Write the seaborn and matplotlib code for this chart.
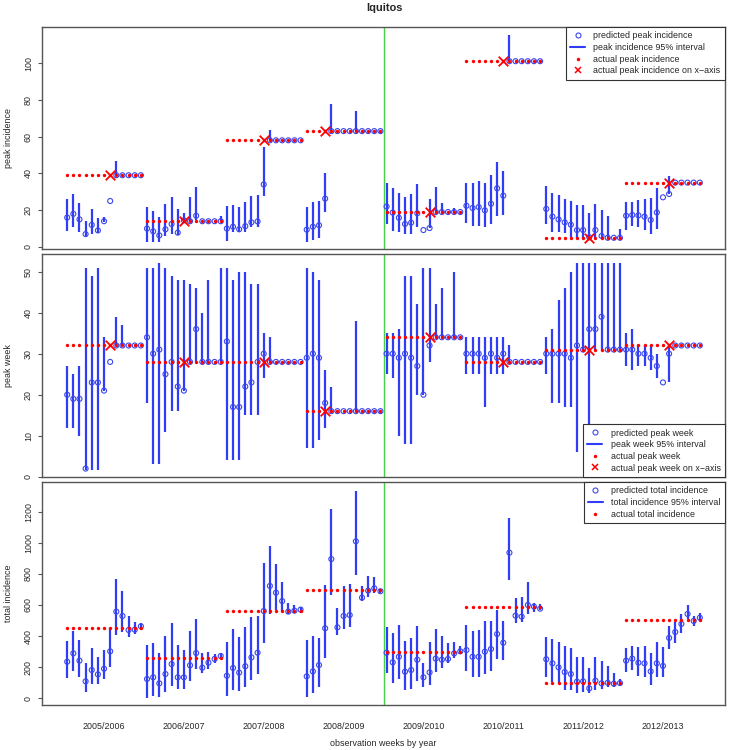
import numpy as np
import pandas as pd
import matplotlib
matplotlib.use("Agg")
import matplotlib.pyplot as plt
import seaborn as sns
from matplotlib.lines import Line2D

# ---------------- data ----------------
seasons = ["2005/2006", "2006/2007", "2007/2008", "2008/2009",
           "2009/2010", "2010/2011", "2011/2012", "2012/2013"]
n_weeks = 13
peak_obs_week = [8, 7, 7, 4, 8, 7, 8, 8]   # observation week of the actual peak

# peak incidence
pk_inc_actual = [39, 14, 58, 63, 19, 101, 5, 35]
pk_inc_pred = [
    16, 18, 15, 7, 12, 9, 14, 25, 39, 39, 39, 39, 39,
    10, 8.5, 6.3, 9.6, 12.5, 7.8, 14.5, 14, 17, 14, 14, 14, 14,
    10, 11, 9.6, 11.3, 13.4, 13.9, 34, 58, 58, 58, 58, 58, 58,
    9.4, 11, 11.8, 26.3, 63, 63, 63, 63, 63, 63, 63, 63, 63,
    22, 18.7, 15.9, 12.5, 13.2, 18.3, 9.2, 10.3, 19, 19, 19, 19, 19,
    22.4, 21.2, 21.7, 19.9, 23.5, 31.9, 27.9, 101, 101, 101, 101, 101, 101,
    20.7, 16.5, 15, 13.4, 12.1, 9.2, 9.2, 5.3, 9.2, 6, 5, 5, 5,
    17, 17.4, 17.2, 16.5, 14.7, 18.8, 27, 28.8, 35, 35, 35, 35, 35]
pk_inc_lo = [
    8.9, 10.7, 8.3, 6, 7.1, 7.4, 13.4, 25, 39, 39, 39, 39, 39,
    2.9, 2.9, 2.9, 6, 7.1, 6.7, 13.4, 14, 14.7, 14, 14, 14, 14,
    3.5, 8, 8, 8, 11, 10.7, 27.7, 58, 58, 58, 58, 58, 58,
    2.9, 3.8, 5.1, 18.8, 63, 63, 63, 63, 63, 63, 63, 63, 63,
    12.5, 8.7, 8.2, 7.1, 7.1, 10.7, 9.2, 10.3, 19, 19, 19, 19, 19,
    13.2, 11.4, 11.4, 10.7, 12.5, 17, 17.4, 101, 101, 101, 101, 101, 101,
    12.5, 8, 8, 7.4, 5.6, 5.1, 5.1, 5.1, 5, 5, 5, 5, 5,
    9.2, 11.4, 10.7, 9.2, 6.9, 9.6, 27, 28.8, 35, 35, 35, 35, 35]
pk_inc_hi = [
    26.1, 28.8, 24.1, 14.1, 20.7, 15.8, 16.5, 25, 46.6, 39, 39, 39, 39,
    21.9, 19.6, 16.5, 23.2, 27.3, 20.5, 18.5, 27.3, 32.8, 14, 14, 14, 16.8,
    22.3, 23, 21.9, 24.6, 27.9, 28.4, 54.2, 63.6, 58, 58, 58, 58, 58,
    21.9, 24.6, 25.2, 40, 77.7, 63, 63, 63, 73.9, 63, 63, 63, 63,
    34.8, 32.2, 29.5, 27.3, 28.6, 34.5, 9.2, 26.3, 32.8, 24.1, 19, 21, 19,
    35, 34.6, 35.7, 34.6, 39.1, 46.2, 41.1, 115.2, 101, 101, 101, 101, 101,
    33.2, 29.5, 28.3, 26.1, 25, 22.8, 22.8, 18.7, 23.4, 19.9, 17, 5, 9.6,
    24.6, 24.6, 25.5, 26.1, 26.4, 31.9, 27, 38.6, 35, 35, 35, 35, 35]

# peak week
pk_wk_actual = [32, 28, 28, 16, 34, 28, 31, 32]
pk_wk_pred = [
    20, 19, 19, 2, 23, 23, 21, 28, 32, 32, 32, 32, 32,
    34, 30, 31, 25, 28, 22, 21, 28, 36, 28, 28, 28, 28,
    33, 17, 17, 22, 23, 28, 30, 28, 28, 28, 28, 28, 28,
    29, 30, 29, 18, 16, 16, 16, 16, 16, 16, 16, 16, 16,
    30, 30, 29, 30, 29, 27, 20, 32, 34, 34, 34, 34, 34,
    30, 30, 30, 29, 30, 29, 30, 28, 28, 28, 28, 28, 28,
    30, 30, 30, 30, 29, 32, 31, 36, 36, 39, 31, 31, 31,
    31, 31, 30, 30, 29, 27, 23, 30, 32, 32, 32, 32, 32]
pk_wk_lo = [
    12, 12, 10, 1.7, 1.7, 1.7, 21, 28, 32, 32, 32, 32, 32,
    18, 3, 3, 11, 16, 16, 21, 28, 28, 28, 28, 28, 28,
    4, 4, 4, 15, 15, 15, 24, 28, 28, 28, 28, 28, 28,
    7, 7, 9, 12, 16, 16, 16, 16, 16, 16, 16, 16, 16,
    25, 24, 10, 8, 8, 20, 20, 28, 34, 34, 34, 34, 34,
    25, 25, 25, 17, 25, 25, 25, 28, 28, 28, 28, 28, 28,
    25, 18, 18, 17, 17, 6, 31, 6, 31, 31, 31, 31, 31,
    27, 26, 27, 27, 26, 24, 23, 23, 32, 32, 32, 32, 32]
pk_wk_hi = [
    27, 25, 27, 51, 49, 51, 34, 28, 39, 37, 32, 32, 32,
    51, 51, 52, 51, 49, 48, 48, 47, 46, 40, 48, 28, 51,
    51, 48, 50, 50, 47, 47, 35, 34, 28, 28, 28, 28, 28,
    51, 50, 48, 26, 22, 16, 16, 16, 38, 16, 16, 16, 16,
    35, 35, 36, 49, 49, 42, 51, 51, 42, 46, 34, 50, 34,
    34, 34, 34, 34, 34, 34, 34, 32, 28, 28, 28, 28, 28,
    34, 36, 43, 46, 50, 52, 52, 52, 52, 52, 52, 52, 52,
    35, 36, 32, 32, 32, 30, 23, 32, 32, 32, 32, 32, 32]

# total incidence
tot_actual = [452, 257, 563, 694, 298, 587, 96, 501]
tot_pred = [
    235, 289, 242, 109, 182, 154, 190, 302, 557, 529, 439, 441, 463,
    124, 135, 96, 156, 220, 135, 135, 212, 291, 197, 229, 253, 272,
    145, 195, 165, 206, 263, 293, 561, 722, 679, 625, 557, 563, 570,
    141, 173, 214, 450, 895, 456, 529, 535, 1009, 647, 692, 707, 688,
    293, 231, 267, 171, 182, 248, 135, 167, 255, 248, 253, 289, 302,
    310, 267, 267, 300, 317, 413, 357, 936, 531, 525, 600, 589, 576,
    251, 225, 199, 169, 156, 107, 109, 64, 113, 96, 100, 94, 98,
    242, 255, 229, 225, 173, 225, 208, 388, 426, 478, 542, 497, 518]
tot_lo = [
    128, 175, 139, 43, 92, 90, 124, 199, 407, 426, 396, 413, 439,
    4, 15, 10, 39, 79, 60, 60, 113, 186, 165, 188, 229, 251,
    17, 53, 47, 75, 118, 156, 357, 540, 567, 563, 542, 546, 550,
    10, 36, 75, 261, 664, 407, 443, 456, 792, 625, 653, 679, 675,
    161, 96, 124, 53, 60, 113, 70, 85, 167, 197, 229, 257, 283,
    178, 139, 139, 154, 178, 251, 246, 760, 482, 492, 542, 557, 567,
    139, 103, 96, 53, 53, 32, 38, 32, 53, 60, 70, 75, 79,
    167, 182, 145, 135, 85, 139, 139, 317, 353, 418, 508, 465, 499]
tot_hi = [
    368, 432, 375, 229, 325, 268, 310, 452, 767, 692, 531, 492, 486,
    343, 357, 293, 400, 482, 343, 310, 432, 512, 293, 300, 285, 293,
    364, 443, 396, 460, 525, 529, 868, 979, 863, 749, 611, 600, 589,
    375, 402, 386, 728, 1217, 582, 722, 735, 1334, 722, 786, 778, 700,
    460, 418, 471, 370, 386, 465, 229, 362, 445, 402, 353, 364, 336,
    471, 432, 439, 497, 497, 567, 499, 1157, 642, 649, 749, 611, 604,
    392, 381, 362, 336, 321, 267, 267, 193, 263, 242, 206, 161, 122,
    321, 336, 332, 336, 289, 364, 332, 467, 492, 540, 600, 531, 546]

# ---------------- style ----------------
sns.set_theme(style="white")
plt.rcParams["font.family"] = ["Liberation Sans", "DejaVu Sans"]
FS = 6.4
CI_BLUE = "#2F3DF6"
PT_BLUE = "#3A47EE"
RED = "#FF0000"
GREEN = "#48D048"
EDGE = "#555555"

W, H = 729, 750
fig = plt.figure(figsize=(W / 100, H / 100), dpi=100)


def fx(px):
    return px / W


def fy(py):
    return 1 - py / H


left, right = 42, 725
panels = [(27, 249), (254, 477), (482, 705)]
axes = []
for top, bot in panels:
    axes.append(fig.add_axes([fx(left), fy(bot), fx(right - left), (bot - top) / H]))

x = np.arange(1, len(seasons) * n_weeks + 1)
season_idx = np.repeat(np.arange(len(seasons)), n_weeks)


def panel(ax, pred, lo, hi, actual, with_x, ylabel, ylim, yticks,
          labels, loc):
    df = pd.DataFrame({"x": x, "pred": pred, "lo": lo, "hi": hi,
                       "actual": np.asarray(actual)[season_idx]})
    ax.vlines(df["x"], df["lo"], df["hi"], color=CI_BLUE, lw=1.6, zorder=2)
    sns.scatterplot(data=df, x="x", y="pred", ax=ax, marker="o", s=13,
                    facecolor="none", edgecolor=PT_BLUE, linewidth=0.8,
                    zorder=3, legend=False)
    sns.scatterplot(data=df, x="x", y="actual", ax=ax, marker="o", s=6,
                    color=RED, linewidth=0, zorder=4, legend=False)
    if with_x:
        dfx = pd.DataFrame({
            "x": np.arange(len(seasons)) * n_weeks + np.asarray(peak_obs_week),
            "y": actual})
        sns.scatterplot(data=dfx, x="x", y="y", ax=ax, marker="x", s=48,
                        color=RED, linewidth=1.3, zorder=5, legend=False)
    ax.axvline(52.5, color=GREEN, lw=1, zorder=1)
    ax.set_xlim(-3.1, 108.1)
    ax.set_ylim(*ylim)
    ax.set_yticks(yticks)
    ax.set_yticklabels([str(t) for t in yticks], fontsize=FS)
    for lab in ax.get_yticklabels():
        lab.set_rotation(90)
        lab.set_va("center")
    ax.tick_params(axis="y", length=3, width=0.8, color=EDGE, pad=3.5,
                   left=True, labelsize=FS)
    ax.set_xlabel("")
    ax.set_ylabel(ylabel, fontsize=FS)
    ax.yaxis.set_label_coords(-0.049, 0.5)
    ax.yaxis.label.set_va("center")
    for sp in ax.spines.values():
        sp.set_color(EDGE)
        sp.set_linewidth(1)
    handles = [
        Line2D([], [], marker="o", ls="none", mfc="none", mec=PT_BLUE,
               mew=0.8, ms=3.6),
        Line2D([], [], color=CI_BLUE, lw=1.5),
        Line2D([], [], marker="o", ls="none", color=RED, ms=2.5, mew=0),
        Line2D([], [], marker="x", ls="none", color=RED, ms=4.5, mew=1.1),
    ][:len(labels)]
    leg = ax.legend(handles, labels, loc=loc, fontsize=FS, frameon=True,
                    fancybox=False, framealpha=1, edgecolor="#333333",
                    borderaxespad=0, handlelength=1.65, handletextpad=0.95,
                    labelspacing=0.3, borderpad=0.5)
    leg.get_frame().set_linewidth(0.8)


ax1, ax2, ax3 = axes
panel(ax1, pk_inc_pred, pk_inc_lo, pk_inc_hi, pk_inc_actual, True,
      "peak incidence", (-1.1, 119.6), [0, 20, 40, 60, 80, 100],
      ["predicted peak incidence", "peak incidence 95% interval",
       "actual peak incidence", "actual peak incidence on x\u2212axis"],
      "upper right")
panel(ax2, pk_wk_pred, pk_wk_lo, pk_wk_hi, pk_wk_actual, True,
      "peak week", (-0.05, 54.3), [0, 10, 20, 30, 40, 50],
      ["predicted peak week", "peak week 95% interval",
       "actual peak week", "actual peak week on x\u2212axis"],
      "lower right")
panel(ax3, tot_pred, tot_lo, tot_hi, tot_actual, False,
      "total incidence", (-43, 1390), [0, 200, 400, 600, 800, 1000, 1200],
      ["predicted total incidence", "total incidence 95% interval",
       "actual total incidence"],
      "upper right")

for ax in (ax1, ax2):
    ax.set_xticks([])
centers = np.arange(len(seasons)) * n_weeks + (n_weeks + 1) / 2
ax3.set_xticks(centers)
ax3.set_xticklabels(seasons, fontsize=FS)
ax3.tick_params(axis="x", length=0, pad=12)
ax3.set_xlabel("observation weeks by year", fontsize=FS)
ax3.xaxis.set_label_coords(0.5, (705 - 743) / (705 - 482))
ax3.xaxis.label.set_va("center")

fig.text(fx(384), fy(8), "Iquitos", fontsize=7.9, fontweight="bold",
         ha="center", va="center")

fig.savefig("out.png", dpi=100)
